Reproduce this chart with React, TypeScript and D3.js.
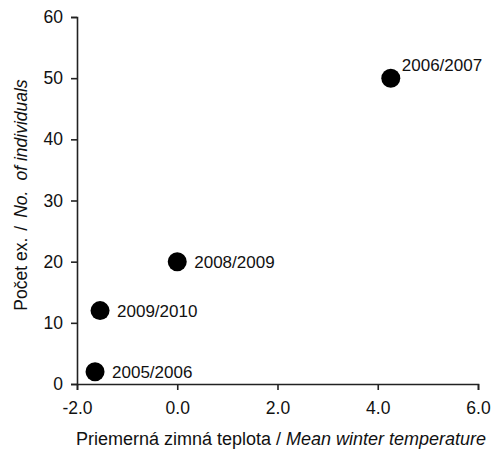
import React, { useRef, useEffect } from 'react';
import * as d3 from 'd3';

const seasons = ['2005/2006', '2006/2007', '2008/2009', '2009/2010'];
const temps = [-1.64, 4.26, 0.0, -1.54];
const counts = [2, 50, 20, 12];
const xTicks = [-2, 0, 2, 4, 6];
const yTicks = [0, 10, 20, 30, 40, 50, 60];

const W = 493;
const H = 451;
const FONT = '"Liberation Sans", Arial, sans-serif';

const App = () => {
  const ref = useRef<SVGSVGElement>(null);

  useEffect(() => {
    const svg = d3.select(ref.current);
    svg.selectAll('*').remove();

    const x = d3.scaleLinear().domain([-2, 6]).range([77, 478]);
    const y = d3.scaleLinear().domain([0, 60]).range([384, 17]);

    const xAxis = svg.append('g')
      .attr('transform', `translate(0,${y(0)})`)
      .call(d3.axisBottom(x).tickValues(xTicks)
        .tickFormat(d => d3.format('.1f')(d as number).replace('−', '-'))
        .tickSizeOuter(0).tickSize(6).tickPadding(12));
    const yAxis = svg.append('g')
      .attr('transform', `translate(${x(-2)},0)`)
      .call(d3.axisLeft(y).tickValues(yTicks).tickSizeOuter(0).tickSize(6).tickPadding(8));

    [xAxis, yAxis].forEach(a => {
      a.selectAll('path, line').attr('stroke', '#222').attr('stroke-width', 1.6);
      a.selectAll('text').attr('font-family', FONT).attr('font-size', 17.5).attr('fill', '#111');
    });

    const data = seasons.map((s, i) => ({ s, t: temps[i], c: counts[i] }));

    svg.append('g').selectAll('circle')
      .data(data)
      .join('circle')
      .attr('cx', d => x(d.t))
      .attr('cy', d => y(d.c))
      .attr('r', 9.5)
      .attr('fill', '#000');

    svg.append('g').selectAll('text')
      .data(data)
      .join('text')
      .attr('x', d => x(d.t) + (d.c === 50 ? 11 : 17))
      .attr('y', d => y(d.c) + (d.c === 50 ? -13 : 0))
      .attr('dy', '0.35em')
      .attr('font-family', FONT)
      .attr('font-size', 17)
      .attr('fill', '#111')
      .text(d => d.s);

    const xt = svg.append('text')
      .attr('x', 281)
      .attr('y', 445)
      .attr('text-anchor', 'middle')
      .attr('font-family', FONT)
      .attr('font-size', 18)
      .attr('fill', '#111');
    xt.append('tspan').text('Priemerná zimná teplota / ');
    xt.append('tspan').attr('font-style', 'italic').text('Mean winter temperature');

    const yt = svg.append('text')
      .attr('transform', `translate(27,195) rotate(-90)`)
      .attr('text-anchor', 'middle')
      .attr('font-family', FONT)
      .attr('font-size', 17.5)
      .attr('fill', '#111');
    yt.append('tspan').text('Počet ex.');
    yt.append('tspan').attr('dx', 7).text('/');
    yt.append('tspan').attr('dx', 8).attr('font-style', 'italic').text('No.');
    yt.append('tspan').attr('dx', 10).attr('font-style', 'italic').text('of individuals');
  }, []);

  return <svg ref={ref} width={W} height={H} style={{ display: 'block', position: 'absolute', left: 0, top: 0, background: '#fff' }} />;
};

export default App;
